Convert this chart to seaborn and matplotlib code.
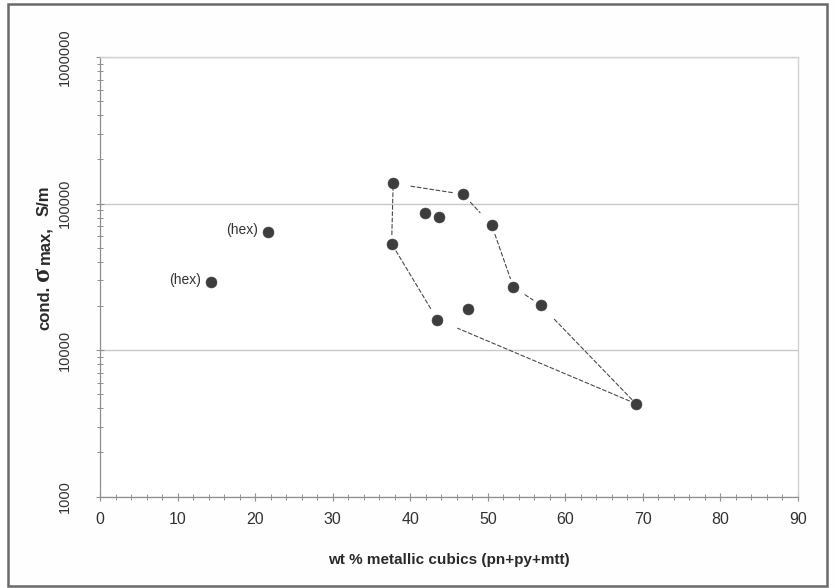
import numpy as np
import pandas as pd
import matplotlib
matplotlib.use("Agg")
import matplotlib.pyplot as plt
from matplotlib.ticker import LogLocator, MultipleLocator, NullFormatter
from matplotlib.patches import Rectangle
import seaborn as sns

# wt % of metallic cubic phases (pentlandite + pyrite + magnetite) per sample
metal_wt_pct = [14.3, 21.7, 37.8, 46.8, 41.9, 43.7, 50.5, 37.6, 53.3, 56.8, 47.5, 43.5, 69.1]
# maximum electrical conductivity per sample, S/m
cond_max = [29200, 64100, 137000, 115600, 86500, 81300, 71300, 53200, 26900, 20300, 19100, 16100, 4300]
# sample notes drawn beside the marker
sample_note = ["(hex)", "(hex)", "", "", "", "", "", "", "", "", "", "", ""]

# samples joined by the dashed envelope, in drawing order
outline_order = [2, 3, 6, 8, 9, 12, 11, 7, 2]
# clearance (pixels) left open at each end of the envelope segments
seg_gap_start = [18, 11, 10, 14, 20, 7, 13, 9]
seg_gap_end = [9, 17, 9, 9, 4, 22, 6, 5]

x_ticks = [0, 10, 20, 30, 40, 50, 60, 70, 80, 90]
y_ticks = [1000, 10000, 100000, 1000000]

df = pd.DataFrame({"metal": metal_wt_pct, "cond": cond_max, "note": sample_note})

sns.set_theme(style="white")
plt.rcParams["font.family"] = ["Liberation Sans", "DejaVu Sans"]

W, H = 834, 588
fig = plt.figure(figsize=(W / 100, H / 100), dpi=100)
fig.patch.set_facecolor("#fefefe")

ax = fig.add_axes([100 / W, 1 - 496.5 / H, 698 / W, (496.5 - 57) / H])
ax.set_facecolor("white")

sns.scatterplot(data=df, x="metal", y="cond", s=62, color="#3d3d3d",
                edgecolor="#3d3d3d", linewidth=0.4, ax=ax, zorder=4, legend=False)

ax.set_yscale("log")
ax.set_xlim(0, 90)
ax.set_ylim(1000, 1000000)

# dashed envelope round the main sample group
px2pt = 72 / fig.dpi
for k in range(len(outline_order) - 1):
    i0, i1 = outline_order[k], outline_order[k + 1]
    ax.annotate("", xy=(metal_wt_pct[i1], cond_max[i1]),
                xytext=(metal_wt_pct[i0], cond_max[i0]),
                arrowprops=dict(arrowstyle="-", linestyle=(0, (3.5, 2.2)), lw=0.8,
                                color="#4a4a4a",
                                shrinkA=seg_gap_start[k] * px2pt,
                                shrinkB=seg_gap_end[k] * px2pt),
                zorder=3)

for xv, yv, note in zip(metal_wt_pct, cond_max, sample_note):
    if note:
        ax.annotate(note, (xv, yv), xytext=(-10, 2), textcoords="offset pixels",
                    ha="right", va="center", fontsize=10, color="#333333")

# axes frame and gridlines
for side in ("left", "bottom"):
    ax.spines[side].set_color("#8f8f8f")
    ax.spines[side].set_linewidth(0.9)
for side in ("top", "right"):
    ax.spines[side].set_color("#d2d2d2")
    ax.spines[side].set_linewidth(1.0)
ax.yaxis.grid(True, which="major", color="#c9c9c9", lw=1.0)
ax.xaxis.grid(False)
ax.set_axisbelow(True)

ax.set_xticks(x_ticks, labels=[str(v) for v in x_ticks])
ax.xaxis.set_minor_locator(MultipleLocator(2))
ax.set_yticks(y_ticks, labels=[str(v) for v in y_ticks])
ax.yaxis.set_minor_locator(LogLocator(base=10, subs=np.arange(2, 10)))
ax.yaxis.set_minor_formatter(NullFormatter())
ax.tick_params(axis="both", which="major", direction="inout", length=6, width=0.8,
               color="#8f8f8f", labelcolor="#333333", bottom=True, left=True)
ax.tick_params(axis="both", which="minor", direction="inout", length=4, width=0.7,
               color="#8f8f8f", bottom=True, left=True)
ax.tick_params(axis="x", which="major", pad=8, labelsize=11.5)
ax.tick_params(axis="y", which="major", pad=17, labelsize=10.5)
for lab in ax.get_yticklabels():
    lab.set_rotation(90)
    lab.set_va("center")

ax.set_xlabel("wt % metallic cubics (pn+py+mtt)", fontsize=11, fontweight="bold",
              color="#2a2a2a", labelpad=19)
ax.set_ylabel("")

# vertical axis title, built from pieces so the sigma can be set larger
renderer = fig.canvas.get_renderer()
label_parts = [
    ("cond.", dict(fontsize=12, fontweight="bold"), 5),
    ("σ", dict(fontsize=19, fontweight="bold", family=["Liberation Serif", "DejaVu Serif"]), 2),
    ("max,", dict(fontsize=12, fontweight="bold"), 10),
    ("S/m", dict(fontsize=12, fontweight="bold"), 0),
]
x_base = 49
y_cursor = H - 330
for txt, props, gap in label_parts:
    t = fig.text(x_base / W, y_cursor / H, txt, rotation=90, rotation_mode="anchor",
                 ha="left", va="baseline", color="#2a2a2a", **props)
    bb = t.get_window_extent(renderer)
    y_cursor += bb.height + gap

# page frame around the figure
fig.patches.append(Rectangle((8 / W, 2 / H), 819 / W, 582 / H, transform=fig.transFigure,
                             fill=False, edgecolor="#6a6a6a", lw=1.8))

fig.savefig("out.png", dpi=100)
